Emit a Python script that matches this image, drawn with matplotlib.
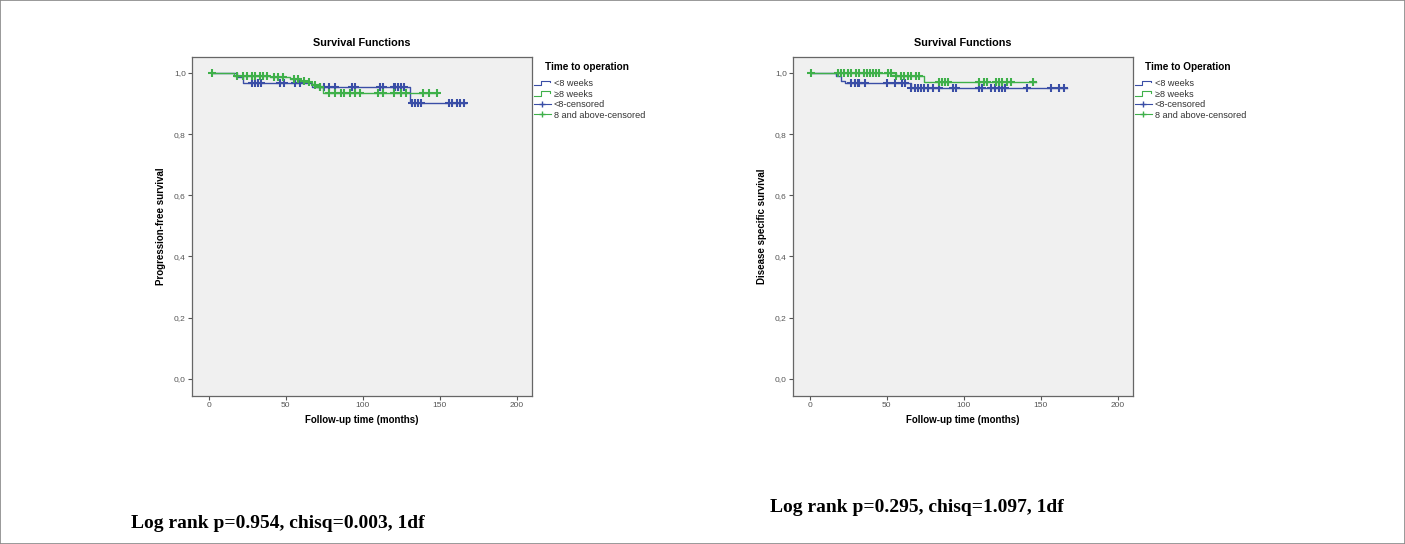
import numpy as np
import matplotlib
matplotlib.use("Agg")
import matplotlib.pyplot as plt
from matplotlib.lines import Line2D
from matplotlib.legend_handler import HandlerBase
from matplotlib.patches import Rectangle

plt.rcParams['font.family'] = ['Liberation Sans', 'DejaVu Sans']

# ---------------- data ----------------
# Left panel: progression-free survival
pfs_lt8_times = [2, 18, 22, 67, 131, 167]
pfs_lt8_surv = [1.0, 0.985, 0.968, 0.955, 0.902, 0.902]
pfs_lt8_cens_t = [28, 30, 32, 34, 46, 49, 56, 59, 72, 75, 78, 82, 93, 95,
                  111, 113, 120, 121, 123, 125, 127, 132, 134, 136, 138,
                  156, 158, 161, 163, 166]
pfs_ge8_times = [2, 16, 40, 53, 59, 64, 67, 70, 74, 148]
pfs_ge8_surv = [1.0, 0.99, 0.985, 0.98, 0.975, 0.97, 0.962, 0.955, 0.935, 0.935]
pfs_ge8_cens_t = [2, 18, 22, 25, 28, 30, 33, 35, 38, 42, 45, 48, 55, 58, 62,
                  65, 69, 72, 78, 82, 86, 88, 92, 95, 98, 110, 113, 120,
                  125, 128, 139, 143, 148]

# Right panel: disease specific survival
dss_lt8_times = [1, 17, 20, 23, 66, 167]
dss_lt8_surv = [1.0, 0.99, 0.975, 0.968, 0.952, 0.952]
dss_lt8_cens_t = [27, 29, 31, 32, 36, 50, 55, 60, 62, 66, 68, 70, 72, 74,
                  77, 80, 84, 93, 95, 110, 112, 118, 120, 123, 125, 127,
                  141, 157, 162, 165]
dss_ge8_times = [1, 56, 74, 147]
dss_ge8_surv = [1.0, 0.99, 0.97, 0.97]
dss_ge8_cens_t = [1, 18, 20, 22, 25, 27, 30, 32, 35, 37, 39, 41, 43, 45, 51,
                  53, 56, 59, 61, 64, 66, 69, 71, 84, 86, 88, 90, 110, 113,
                  115, 121, 123, 125, 128, 131, 145]

panels = [
    dict(ylabel='Progression-free survival', legend_title='Time to operation',
         lt8=(pfs_lt8_times, pfs_lt8_surv, pfs_lt8_cens_t),
         ge8=(pfs_ge8_times, pfs_ge8_surv, pfs_ge8_cens_t),
         note='Log rank p=0.954, chisq=0.003, 1df'),
    dict(ylabel='Disease specific survival', legend_title='Time to Operation',
         lt8=(dss_lt8_times, dss_lt8_surv, dss_lt8_cens_t),
         ge8=(dss_ge8_times, dss_ge8_surv, dss_ge8_cens_t),
         note='Log rank p=0.295, chisq=1.097, 1df'),
]

legend_labels = ['<8 weeks', '\u22658 weeks', '<8-censored', '8 and above-censored']
x_ticks = [0, 50, 100, 150, 200]
y_ticks = [0.0, 0.2, 0.4, 0.6, 0.8, 1.0]
y_tick_labels = ['0,0', '0,2', '0,4', '0,6', '0,8', '1,0']

BLUE = '#3a4ea6'
GREEN = '#3fb04a'
TICKCOL = '#555555'

W, H = 1405, 544
fig = plt.figure(figsize=(W / 100, H / 100), dpi=100)
fig.patch.set_facecolor('white')
fig.patches.append(Rectangle((0, 0), 1, 1, transform=fig.transFigure,
                             fill=False, edgecolor='#888888', lw=1.2))


class StepHandler(HandlerBase):
    def create_artists(self, legend, orig_handle, xdescent, ydescent,
                       width, height, fontsize, trans):
        xs = np.array([0.0, 0.45, 0.45, 0.95, 0.95]) * width - xdescent
        ys = np.array([0.15, 0.15, 0.85, 0.85, 0.55]) * height - ydescent
        ln = Line2D(xs, ys, color=orig_handle.get_color(), lw=0.8,
                    transform=trans)
        return [ln]


def surv_value_at(times, surv, t):
    idx = np.searchsorted(times, t, side='right') - 1
    idx = np.clip(idx, 0, len(surv) - 1)
    return np.asarray(surv)[idx]


axes_left_px = [192, 793]
title_x_px = [545, 1145]
for i, p in enumerate(panels):
    l = axes_left_px[i] / W
    ax = fig.add_axes([l, 1 - 396 / H, 340 / W, (396 - 57) / H])
    ax.set_facecolor('#f0f0f0')
    for key, col in (('lt8', BLUE), ('ge8', GREEN)):
        t, s, c = p[key]
        ax.step(t, s, where='post', color=col, lw=1.0)
        cv = surv_value_at(np.array(t), s, np.array(c))
        ax.plot(c, cv, linestyle='none', marker='+', color=col,
                markersize=5.5, markeredgewidth=1.5)
    ax.set_xlim(-11, 210)
    ax.set_ylim(-0.056, 1.052)
    ax.set_xticks(x_ticks)
    ax.set_xticklabels([str(v) for v in x_ticks])
    ax.set_yticks(y_ticks)
    ax.set_yticklabels(y_tick_labels)
    ax.tick_params(axis='both', direction='out', length=3, width=0.8,
                   colors=TICKCOL, labelsize=6, pad=1.5)
    for sp in ax.spines.values():
        sp.set_color('#666666')
        sp.set_linewidth(0.9)
    ax.set_title('Survival Functions', fontsize=7.8, fontweight='bold', pad=8)
    ax.set_xlabel('Follow-up time (months)', fontsize=7, fontweight='bold',
                  labelpad=4)
    ax.set_ylabel(p['ylabel'], fontsize=7, fontweight='bold', labelpad=6)

    handles = [Line2D([], [], color=BLUE), Line2D([], [], color=GREEN),
               Line2D([], [], color=BLUE, marker='+', markersize=5, lw=0.8),
               Line2D([], [], color=GREEN, marker='+', markersize=5, lw=0.8)]
    hmap = {handles[0]: StepHandler(), handles[1]: StepHandler()}
    leg = fig.legend(handles, legend_labels, handler_map=hmap,
                     loc='upper left',
                     bbox_to_anchor=((axes_left_px[i] + 340 + 2) / W, 1 - 79 / H),
                     frameon=False, fontsize=6.6,
                     handlelength=1.8, handletextpad=0.35, labelspacing=0.17,
                     borderaxespad=0, borderpad=0)
    for txt in leg.get_texts():
        txt.set_color('#333333')
    fig.text(title_x_px[i] / W, 1 - 67 / H, p['legend_title'], fontsize=7.2,
             fontweight='bold', ha='left', va='center')

fig.text(131 / W, 1 - 524 / H, panels[0]['note'], family='Liberation Serif',
         fontweight='bold', fontsize=14, va='center', ha='left')
fig.text(770 / W, 1 - 507 / H, panels[1]['note'], family='Liberation Serif',
         fontweight='bold', fontsize=14, va='center', ha='left')

fig.savefig('out.png', dpi=100)
